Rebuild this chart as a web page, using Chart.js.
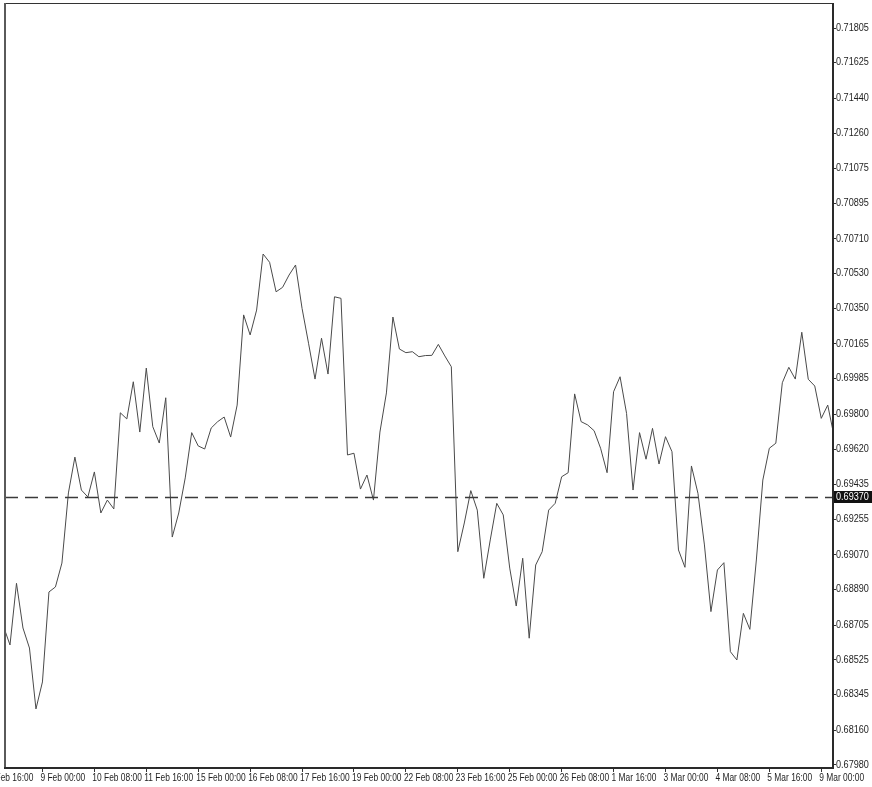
<!DOCTYPE html>
<html>
<head>
<meta charset="utf-8">
<script src="https://cdn.jsdelivr.net/npm/chart.js@4/dist/chart.umd.min.js"></script>
<style>
    html, body { margin: 0; padding: 0; background: #fff; }
    #wrap { width: 872px; height: 787px; }
</style>
</head>
<body>
<div id="wrap"><canvas id="price-chart" width="872" height="787"></canvas></div>
<script>
// H4 closes, bar 0 = 8 Feb 00:00
let closes = [
    0.68699, 0.68603, 0.68923, 0.68691, 0.68587, 0.68271, 0.68411, 0.68878, 0.68904, 0.69028,
    0.69392, 0.69578, 0.69407, 0.69371, 0.69501, 0.69288, 0.69355, 0.69309, 0.69808, 0.69776,
    0.69969, 0.69708, 0.70040, 0.69736, 0.69651, 0.69886, 0.69163, 0.69288, 0.69470, 0.69705,
    0.69636, 0.69620, 0.69729, 0.69762, 0.69786, 0.69682, 0.69848, 0.70316, 0.70212, 0.70341,
    0.70632, 0.70589, 0.70436, 0.70459, 0.70523, 0.70575, 0.70350, 0.70169, 0.69983, 0.70195,
    0.70009, 0.70410, 0.70402, 0.69589, 0.69598, 0.69412, 0.69485, 0.69355, 0.69708, 0.69911,
    0.70305, 0.70139, 0.70120, 0.70125, 0.70099, 0.70105, 0.70106, 0.70163, 0.70103, 0.70047,
    0.69087, 0.69236, 0.69404, 0.69303, 0.68949, 0.69148, 0.69338, 0.69278, 0.69002, 0.68805,
    0.69053, 0.68638, 0.69018, 0.69087, 0.69303, 0.69338, 0.69476, 0.69497, 0.69906, 0.69762,
    0.69745, 0.69715, 0.69624, 0.69497, 0.69917, 0.69995, 0.69805, 0.69407, 0.69705, 0.69567,
    0.69727, 0.69542, 0.69684, 0.69606, 0.69096, 0.69006, 0.69532, 0.69390, 0.69122, 0.68776,
    0.68992, 0.69030, 0.68568, 0.68525, 0.68767, 0.68684, 0.69044, 0.69459, 0.69624, 0.69650,
    0.69964, 0.70044, 0.69983, 0.70226, 0.69982, 0.69947, 0.69779, 0.69848, 0.69682
];

let timeLabels = [
    "8 Feb 16:00", "9 Feb 00:00", "10 Feb 08:00", "11 Feb 16:00", "15 Feb 00:00",
    "16 Feb 08:00", "17 Feb 16:00", "19 Feb 00:00", "22 Feb 08:00", "23 Feb 16:00",
    "25 Feb 00:00", "26 Feb 08:00", "1 Mar 16:00", "3 Mar 00:00", "4 Mar 08:00",
    "5 Mar 16:00", "9 Mar 00:00"
];
let firstLabelBar = -2;   // "8 Feb 16:00" sits just left of the window
let barsPerLabel = 8;

let priceTicks = [
    0.71805, 0.71625, 0.71440, 0.71260, 0.71075, 0.70895, 0.70710, 0.70530,
    0.70350, 0.70165, 0.69985, 0.69800, 0.69620, 0.69435, 0.69255, 0.69070,
    0.68890, 0.68705, 0.68525, 0.68345, 0.68160, 0.67980
];
let bidPrice = 0.69370;

// visible window
let viewFrom = 0.23, viewTo = 127.81;
let priceLow = 0.679644, priceHigh = 0.719296;

let fontCss = "10px 'Liberation Sans', Arial, sans-serif";

// narrow text, the terminal font is condensed
function squeezeText(ctx, text, x, y, sx) {
    ctx.save();
    ctx.translate(x, y);
    ctx.scale(sx, 1);
    ctx.fillText(text, 0, 0);
    ctx.restore();
}

let frame = {
    id: 'frame',
    afterDatasetsDraw(chart) {
        let ctx = chart.ctx;
        let a = chart.chartArea;
        let y = Math.round(chart.scales.y.getPixelForValue(bidPrice)) + 0.5;

        ctx.save();
        // bid line
        ctx.strokeStyle = '#3a3a3a';
        ctx.lineWidth = 1.3;
        ctx.setLineDash([13, 7]);
        ctx.beginPath();
        ctx.moveTo(a.left, y);
        ctx.lineTo(a.right, y);
        ctx.stroke();
        ctx.setLineDash([]);

        // border
        ctx.strokeStyle = '#333';
        ctx.lineWidth = 1;
        ctx.beginPath();
        ctx.moveTo(a.left, a.top - 0.5);
        ctx.lineTo(a.right, a.top - 0.5);
        ctx.stroke();
        ctx.lineWidth = 2;
        ctx.strokeStyle = '#5a5a5a';
        ctx.beginPath();
        ctx.moveTo(a.left, a.top - 1);
        ctx.lineTo(a.left, a.bottom);
        ctx.stroke();
        ctx.strokeStyle = '#2a2a2a';
        ctx.beginPath();
        ctx.moveTo(a.right, a.top - 1);
        ctx.lineTo(a.right, a.bottom + 1);
        ctx.moveTo(a.left - 1, a.bottom);
        ctx.lineTo(a.right, a.bottom);
        ctx.stroke();

        ctx.font = fontCss;
        ctx.textBaseline = 'middle';
        ctx.textAlign = 'left';

        // axis labels at the scales' tick positions
        ctx.fillStyle = '#1e1e1e';
        let xs = chart.scales.x;
        xs.ticks.forEach(function (t, k) {
            squeezeText(ctx, timeLabels[k], xs.getPixelForValue(t.value) - 2, a.bottom + 10, 0.84);
        });
        let ys = chart.scales.y;
        ys.ticks.forEach(function (t, k) {
            squeezeText(ctx, priceTicks[k].toFixed(5), a.right + 3, ys.getPixelForValue(t.value), 0.91);
        });

        // bid price box
        ctx.fillStyle = '#111';
        ctx.fillRect(a.right + 1, y - 6.5, 872 - a.right - 1, 12);
        ctx.fillStyle = '#fff';
        squeezeText(ctx, bidPrice.toFixed(5), a.right + 3, y, 0.91);
        ctx.restore();
    }
};

new Chart(document.getElementById("price-chart"), {
    type: 'line',
    data: {
        datasets: [{
            data: closes.map(function (c, i) { return { x: i, y: c }; }),
            borderColor: '#4a4a4a',
            borderWidth: 1,
            pointRadius: 0,
            tension: 0,
            clip: 0
        }]
    },
    options: {
        responsive: false,
        animation: false,
        events: [],
        layout: { padding: { top: 4, left: 5, right: 0, bottom: 0 } },
        plugins: {
            legend: { display: false },
            tooltip: { enabled: false }
        },
        scales: {
            x: {
                type: 'linear',
                min: viewFrom,
                max: viewTo,
                afterBuildTicks: function (s) {
                    s.ticks = timeLabels.map(function (t, k) { return { value: firstLabelBar + k * barsPerLabel }; });
                },
                afterFit: function (s) {
                    s.height = 19;
                    s.paddingLeft = 0;
                    s.paddingRight = 0;
                },
                border: { display: false },
                grid: { drawOnChartArea: false, tickLength: 4, tickColor: '#333' },
                ticks: { display: false, autoSkip: false, maxRotation: 0 }
            },
            y: {
                position: 'right',
                min: priceLow,
                max: priceHigh,
                afterBuildTicks: function (s) {
                    s.ticks = priceTicks.map(function (p) { return { value: p }; });
                },
                afterFit: function (s) {
                    s.width = 39;
                    s.paddingTop = 0;
                    s.paddingBottom = 0;
                },
                border: { display: false },
                grid: { drawOnChartArea: false, tickLength: 3, tickColor: '#333' },
                ticks: { display: false, autoSkip: false }
            }
        }
    },
    plugins: [frame]
});
</script>
</body>
</html>
